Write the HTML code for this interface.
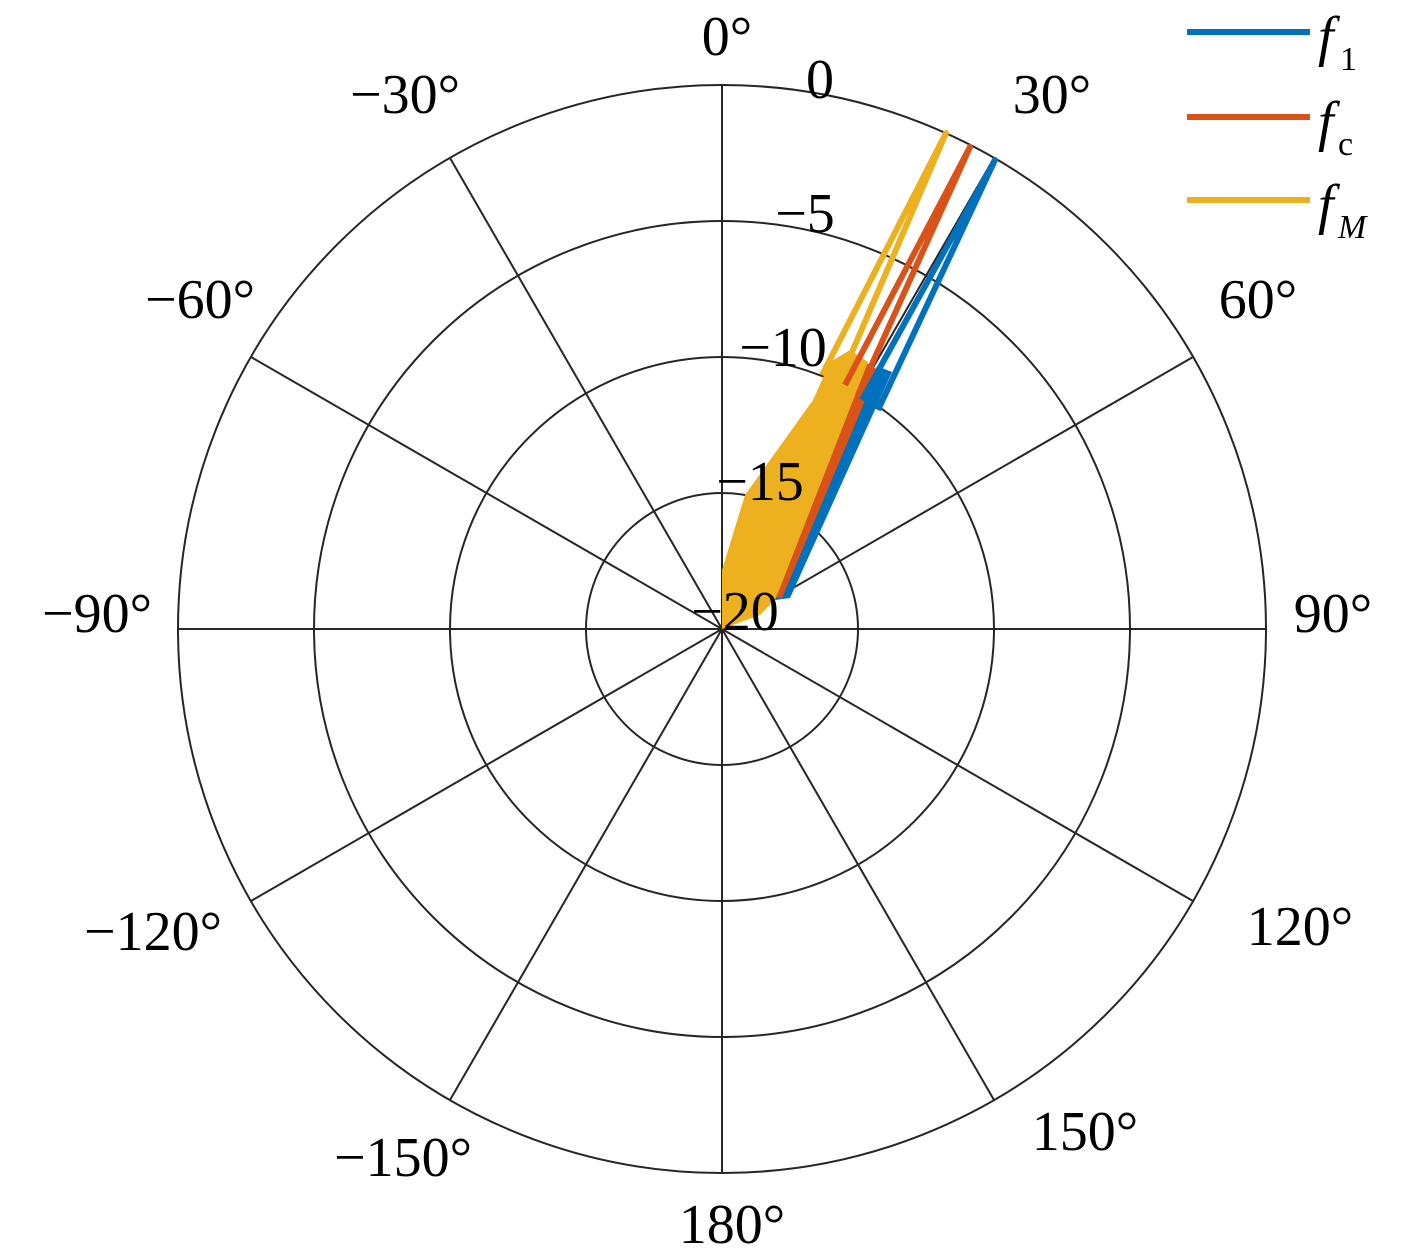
<!DOCTYPE html>
<html><head><meta charset="utf-8"><style>
body{margin:0;background:#fff;}
svg text{font-family:"Liberation Serif",serif;font-size:56px;fill:#000;}
</style></head><body>
<svg width="1417" height="1252" viewBox="0 0 1417 1252" xmlns="http://www.w3.org/2000/svg">
<g fill="none" stroke="#262626" stroke-width="2">
<circle cx="722" cy="629" r="136"/>
<circle cx="722" cy="629" r="272"/>
<circle cx="722" cy="629" r="408"/>
<circle cx="722" cy="629" r="544"/>
<line x1="722" y1="85" x2="722" y2="1173"/>
<line x1="178" y1="629" x2="1266" y2="629"/>
<line x1="450" y1="158" x2="994" y2="1100"/>
<line x1="994" y1="158" x2="450" y2="1100"/>
<line x1="251" y1="357" x2="1193" y2="901"/>
<line x1="1193" y1="357" x2="251" y2="901"/>
</g>
<polygon points="775,600 790,598 892,372 877,366" fill="#0072BD"/>
<polygon points="768,596 782,598 878,370 862,360" fill="#D95319"/>
<polygon points="722,629 722,570 745,495 813,400 830,362 850,350 868,362 785,575 775,600 760,615" fill="#EDB120"/>
<g fill="none" stroke-width="6" stroke-linejoin="round">
<path d="M862,400 L995,160 L878,410" stroke="#0072BD"/>
<path d="M845,385 L970,147 L858,395" stroke="#D95319"/>
<path d="M822,375 L946,133 L840,380" stroke="#EDB120"/>
</g>
<g text-anchor="middle">
<text x="727" y="55">0°</text>
<text x="1052" y="113">30°</text>
<text x="1258" y="318">60°</text>
<text x="1333" y="632">90°</text>
<text x="1300" y="945">120°</text>
<text x="1085" y="1150">150°</text>
<text x="732" y="1243">180°</text>
<text x="403" y="1176">−150°</text>
<text x="153" y="950">−120°</text>
<text x="97" y="632">−90°</text>
<text x="200" y="318">−60°</text>
<text x="405" y="113">−30°</text>
<text x="820" y="98">0</text>
<text x="805" y="232">−5</text>
<text x="783" y="366">−10</text>
<text x="760" y="500">−15</text>
<text x="735" y="630">−20</text>
</g>
<g stroke-width="6">
<line x1="1187" y1="32" x2="1310" y2="32" stroke="#0072BD"/>
<line x1="1187" y1="117" x2="1310" y2="117" stroke="#D95319"/>
<line x1="1187" y1="200" x2="1310" y2="200" stroke="#EDB120"/>
</g>
<text x="1318" y="55" font-style="italic">f</text><text x="1340" y="70" style="font-size:34px">1</text>
<text x="1318" y="140" font-style="italic">f</text><text x="1338" y="155" style="font-size:34px">c</text>
<text x="1318" y="223" font-style="italic">f</text><text x="1338" y="238" style="font-size:34px;font-style:italic">M</text>
</svg>
</body></html>
